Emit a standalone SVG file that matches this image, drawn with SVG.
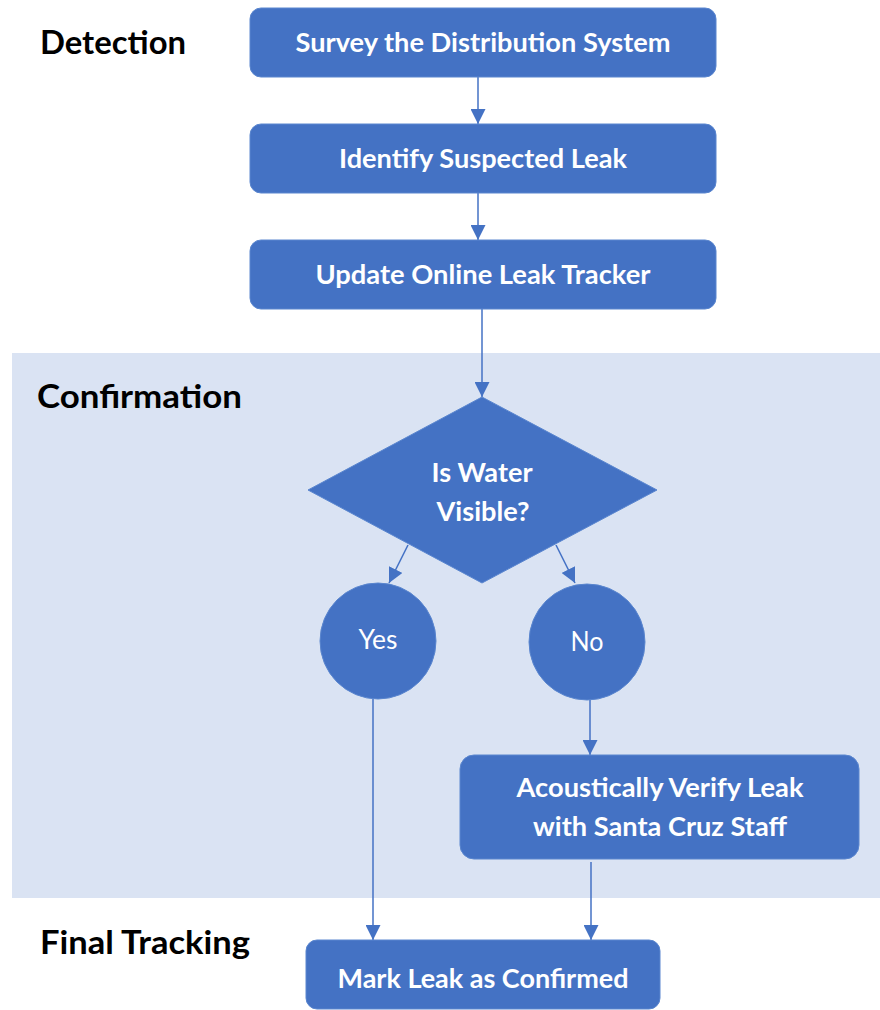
<svg xmlns="http://www.w3.org/2000/svg" width="880" height="1010" viewBox="0 0 880 1010">
<style>
.node{fill:#4472C4;stroke:#5A86CF;stroke-width:1}
.lbl{font-family:Lato,"Open Sans","Liberation Sans",sans-serif;font-weight:bold;fill:#ffffff;font-size:26px;text-anchor:middle}
.reg{font-family:Lato,"Open Sans","Liberation Sans",sans-serif;font-weight:normal;fill:#ffffff;font-size:26px;text-anchor:middle}
.head{font-family:Lato,"Open Sans","Liberation Sans",sans-serif;font-weight:bold;fill:#000000;font-size:32px}
.conn{stroke:#4472C4;stroke-width:1.5;fill:none;marker-end:url(#arrow)}
</style>
<defs>
<marker id="arrow" markerUnits="userSpaceOnUse" markerWidth="15" markerHeight="15" refX="15" refY="7.5" orient="auto">
<path d="M0,0 L15,7.5 L0,15 z" fill="#4472C4"/>
</marker>
</defs>
<rect x="0" y="0" width="880" height="1010" fill="#ffffff"/>
<rect id="confirmation-band" x="12" y="353" width="868" height="545" fill="#DAE3F3"/>
<g id="headings">
<text class="head" x="40" y="54" textLength="146" lengthAdjust="spacingAndGlyphs">Detection</text>
<text class="head" x="37" y="408" textLength="205" lengthAdjust="spacingAndGlyphs">Confirmation</text>
<text class="head" x="40" y="954" textLength="210" lengthAdjust="spacingAndGlyphs">Final Tracking</text>
</g>
<g id="connectors">
<line class="conn" x1="478" y1="77" x2="478" y2="124"/>
<line class="conn" x1="478" y1="193" x2="478" y2="240"/>
<line class="conn" x1="482" y1="309" x2="482" y2="397"/>
<line class="conn" x1="408" y1="545" x2="389" y2="583"/>
<line class="conn" x1="556" y1="545" x2="575" y2="583"/>
<line class="conn" x1="373" y1="699" x2="373" y2="940"/>
<line class="conn" x1="590" y1="700" x2="590" y2="755"/>
<line class="conn" x1="591" y1="862" x2="591" y2="940"/>
</g>
<g id="survey">
<rect class="node" x="250" y="8" width="466" height="69" rx="11"/>
<text class="lbl" x="483" y="52" textLength="375" lengthAdjust="spacingAndGlyphs">Survey the Distribution System</text>
</g>
<g id="identify">
<rect class="node" x="250" y="124" width="466" height="69" rx="11"/>
<text class="lbl" x="483" y="168" textLength="288" lengthAdjust="spacingAndGlyphs">Identify Suspected Leak</text>
</g>
<g id="update">
<rect class="node" x="250" y="240" width="466" height="69" rx="11"/>
<text class="lbl" x="483" y="284" textLength="335" lengthAdjust="spacingAndGlyphs">Update Online Leak Tracker</text>
</g>
<g id="decision">
<polygon class="node" points="482,397 657,490 482,583 308,490"/>
<text class="lbl" x="482" y="482" textLength="101" lengthAdjust="spacingAndGlyphs">Is Water</text>
<text class="lbl" x="483" y="521" textLength="93" lengthAdjust="spacingAndGlyphs">Visible?</text>
</g>
<g id="yes">
<circle class="node" cx="378" cy="641" r="58"/>
<text class="reg" x="378" y="649" textLength="39" lengthAdjust="spacingAndGlyphs">Yes</text>
</g>
<g id="no">
<circle class="node" cx="587" cy="642" r="58"/>
<text class="reg" x="587" y="651" textLength="33" lengthAdjust="spacingAndGlyphs">No</text>
</g>
<g id="acoustic">
<rect class="node" x="460" y="755" width="399" height="104" rx="14"/>
<text class="lbl" x="660" y="797" textLength="287" lengthAdjust="spacingAndGlyphs">Acoustically Verify Leak</text>
<text class="lbl" x="660" y="836" textLength="254" lengthAdjust="spacingAndGlyphs">with Santa Cruz Staff</text>
</g>
<g id="mark">
<rect class="node" x="306" y="940" width="354" height="69" rx="11"/>
<text class="lbl" x="483" y="988" textLength="291" lengthAdjust="spacingAndGlyphs">Mark Leak as Confirmed</text>
</g>
</svg>
